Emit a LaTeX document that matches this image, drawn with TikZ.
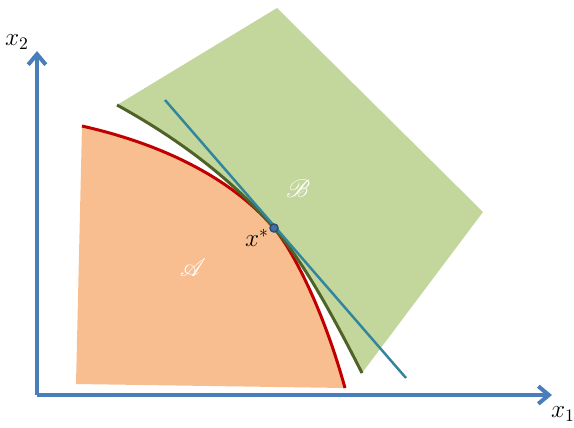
\documentclass[tikz,border=0pt]{standalone}
\usepackage{amsmath,amssymb}
\usepackage{mathrsfs}
\usepackage{tikz}
\usetikzlibrary{arrows.meta}

\definecolor{axisblue}{RGB}{74,126,187}
\definecolor{setAfill}{RGB}{249,190,144}
\definecolor{setAline}{RGB}{192,0,0}
\definecolor{setBfill}{RGB}{195,214,155}
\definecolor{setBline}{RGB}{79,98,40}
\definecolor{tanline}{RGB}{49,133,156}

\tikzset{
  axis/.style={axisblue,line width=2.3pt,-{Straight Barb[length=6pt,width=10pt]}},
  setlabel/.style={white,font=\Large},
}

\begin{document}
\begin{tikzpicture}[x=0.02cm,y=-0.02cm]
  \useasboundingbox (0,0) rectangle (574,427);
  % point of contact
  \coordinate (xs) at (274,228);
  % set A
  \fill[setAfill] (82,126) .. controls (166,145) and (233,180) .. (xs)
    .. controls (291,248) and (322,305) .. (345,388) -- (76,384) -- cycle;
  \draw[setAline,line width=1.7pt] (82,126) .. controls (166,145) and (233,180) .. (xs)
    .. controls (291,248) and (322,305) .. (345,388);
  % set B
  \fill[setBfill] (117,105) -- (277,8) -- (483,212) -- (362,373)
    .. controls (326,302) and (300,258) .. (xs)
    .. controls (236,184) and (186,143) .. cycle;
  \draw[setBline,line width=1.7pt] (117,105) .. controls (186,143) and (236,184) .. (xs)
    .. controls (300,258) and (326,302) .. (362,373);
  % separating line
  \coordinate (ta) at (165,100);
  \coordinate (tb) at (406,378);
  \draw[tanline,line width=1.4pt] (ta) -- (tb);
  % axes
  \coordinate (o) at (37,395);
  \coordinate (xend) at (552,395);
  \coordinate (yend) at (37,51);
  \draw[axis] (o) -- (xend);
  \draw[axis] (o) -- (yend);
  \node (xonelabel) at (563,414) {\Large $x_1$};
  \node (xtwolabel) at (17,42) {\Large $x_2$};
  % x* dot
  \fill[axisblue!90!black,draw=axisblue!60!black,line width=0.8pt] (xs) circle (2.3pt);
  \node (xstar) at (257,238) {\Large $x^*$};
  % labels
  \node[setlabel] (alabel) at (193,268) {$\mathscr{A}$};
  \node[setlabel] (blabel) at (298,189) {$\mathscr{B}$};
\end{tikzpicture}
\end{document}
